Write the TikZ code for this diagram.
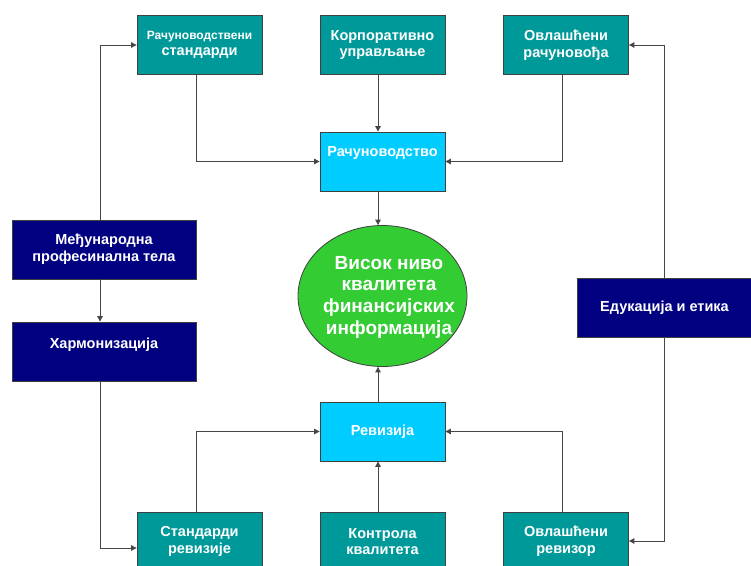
\documentclass[tikz,border=0pt]{standalone}
\usepackage{fontspec}
\setmainfont{Liberation Sans}
\usetikzlibrary{arrows.meta,shapes.geometric}
\definecolor{tealbox}{RGB}{0,153,153}
\definecolor{cyanbox}{RGB}{0,204,255}
\definecolor{navybox}{RGB}{0,0,128}
\definecolor{greenell}{RGB}{51,204,51}
\definecolor{linegray}{RGB}{70,70,70}
\tikzset{
  basebox/.style={draw=black!75, line width=0.8pt, minimum width=125pt, minimum height=59pt,
    inner sep=0pt, text=white, align=center, font=\bfseries\fontsize{14.5}{16.7}\selectfont},
  tealnode/.style={basebox, fill=tealbox},
  cyannode/.style={basebox, fill=cyanbox},
  navynode/.style={basebox, fill=navybox, minimum width=184pt},
  ellnode/.style={ellipse, draw=black!75, line width=0.8pt, fill=greenell,
    minimum width=169pt, minimum height=141pt, inner sep=0pt},
  elltext/.style={text=white, align=center, font=\bfseries\fontsize{19}{21.7}\selectfont},
  conn/.style={draw=linegray, line width=0.9pt},
  arr/.style={conn, -{Triangle[length=5.5pt,width=5.5pt]}}
}
\begin{document}
\begin{tikzpicture}[x=1pt,y=-1pt]
\useasboundingbox (0,0) rectangle (751,565);
\clip (0,0) rectangle (751,565);
% top row
\node[tealnode] (rs) at (199.5,45) {{\fontsize{12}{16.7}\selectfont Рачуноводствени}\\стандарди};
\node[tealnode] (ku) at (382.5,45) {Корпоративно\\управљање};
\node[tealnode] (orc) at (566,45) {Овлашћени\\рачуновођа};
% accounting
\node[cyannode] (rac) at (382.5,161.5) {\raisebox{8.5pt}[\height][\depth]{Рачуноводство}};
% ellipse
\node[ellnode] (hq) at (382.5,296) {};
\node[elltext] (hqt) at ([xshift=6.5pt,yshift=-1pt]hq.center) {Висок ниво\\квалитета\\финансијских\\информација};
% audit
\node[cyannode] (rev) at (382.5,431.5) {Ревизија};
% bottom row
\node[tealnode] (sr) at (199.5,541.5) {Стандарди\\ревизије};
\node[tealnode] (kk) at (382.5,541.5) {Контрола\\квалитета};
\node[tealnode] (ovr) at (566,541.5) {Овлашћени\\ревизор};
% left side
\node[navynode] (mpt) at (104,249.5) {Међународна\\професинална тела};
\node[navynode] (harm) at (104,351.5) {\raisebox{6.5pt}[\height][\depth]{Хармонизација}};
% right side
\node[navynode, minimum width=175pt] (edu) at (664.5,307.5) {Едукација и етика};
% connectors
\coordinate (rsdown) at (196,74.5);
\draw[arr] (rsdown) |- (rac.west);
\draw[arr] ([xshift=-4.5pt]ku.south) -- ([xshift=-4.5pt]rac.north);
\coordinate (ordown) at (562,74.5);
\draw[arr] (ordown) |- (rac.east);
\draw[arr] ([xshift=-4.5pt]rac.south) -- ([xshift=-4.5pt]hq.north);
\draw[arr] ([xshift=-4.5pt]rev.north) -- ([xshift=-4.5pt]hq.south);
\draw[arr] ([xshift=-4.5pt]kk.north) -- ([xshift=-4.5pt]rev.south);
\coordinate (srup) at (196,512);
\draw[arr] (srup) |- (rev.west);
\coordinate (ovrup) at (562,512);
\draw[arr] (ovrup) |- (rev.east);
\coordinate (mptup) at (100,220);
\draw[arr] (mptup) |- (rs.west);
\draw[arr] ([xshift=-4pt]mpt.south) -- ([xshift=-4pt]harm.north);
\coordinate (harmdown) at (100,381);
\draw[arr] (harmdown) |- ([yshift=-6.5pt]sr.west);
\draw[arr] (edu.north) |- (orc.east);
\draw[arr] (edu.south) |- ([yshift=0.5pt]ovr.east);
\end{tikzpicture}
\end{document}
